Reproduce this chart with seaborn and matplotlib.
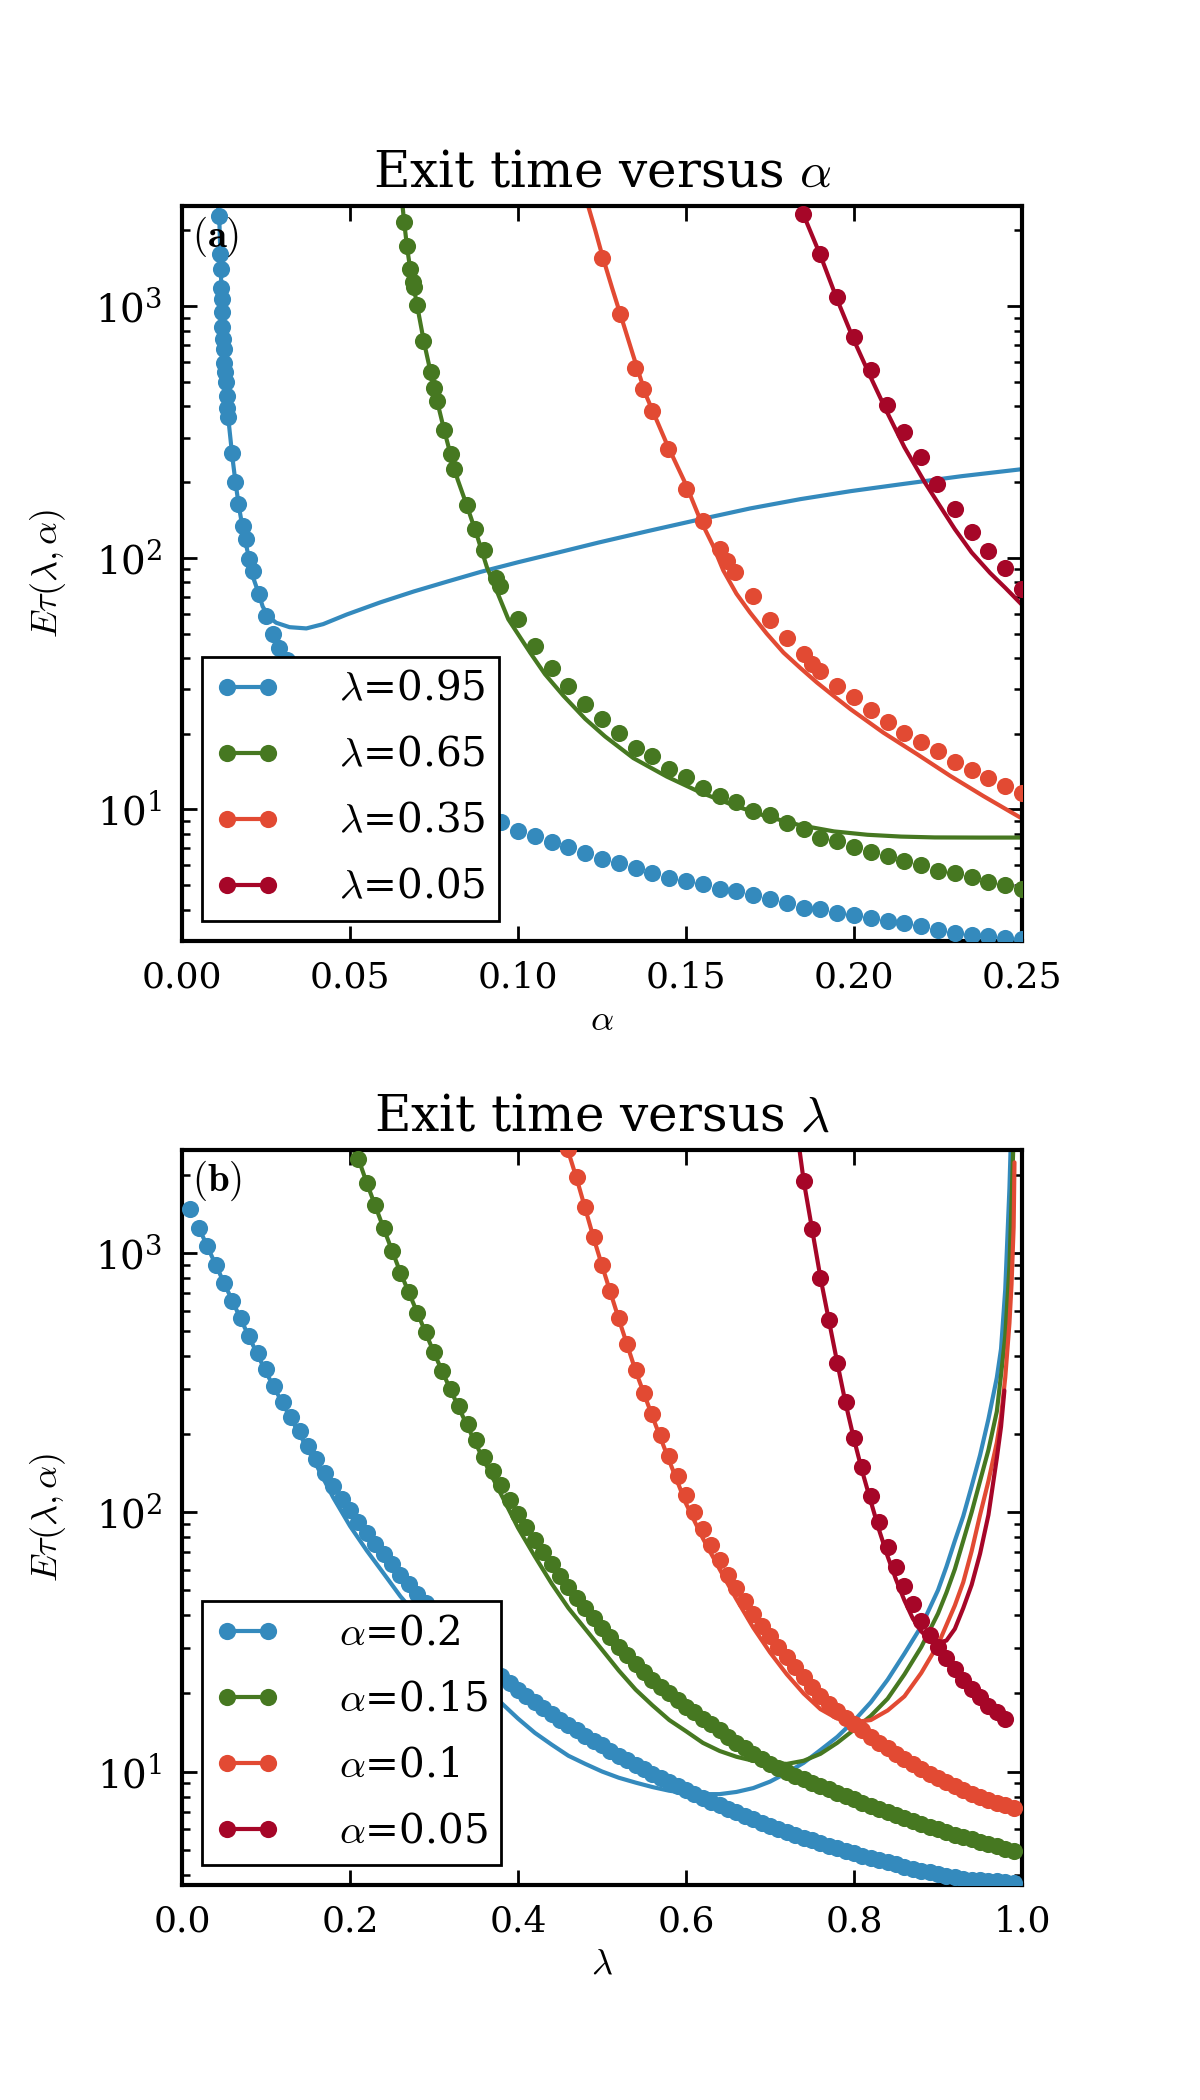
import matplotlib
matplotlib.use("Agg")
import matplotlib.pyplot as plt
import seaborn as sns
from matplotlib.lines import Line2D
from matplotlib.ticker import NullLocator, NullFormatter, FormatStrFormatter

# colours for the four series (top to bottom in each legend)
colors = ['#348ABD', '#467821', '#E24A33', '#A60628']

# ---------------- panel (a): exit time versus alpha ----------------
a_labels = [r'$\lambda$=0.95', r'$\lambda$=0.65', r'$\lambda$=0.35', r'$\lambda$=0.05']

# lambda = 0.95
a_dot_x_095 = [0.0111, 0.0113, 0.0115, 0.0116, 0.0118, 0.0119, 0.0120, 0.0123, 0.0125, 0.0126,
               0.0128, 0.0130, 0.0133, 0.0135, 0.0138, 0.0148, 0.0158, 0.0168, 0.0181, 0.0190,
               0.0200, 0.0210, 0.0229, 0.0250, 0.0272, 0.0290, 0.0312, 0.035, 0.040, 0.045,
               0.050, 0.055, 0.060, 0.065, 0.070, 0.075, 0.080, 0.085, 0.090, 0.095,
               0.100, 0.105, 0.110, 0.115, 0.120, 0.125, 0.130, 0.135, 0.140, 0.145,
               0.150, 0.155, 0.160, 0.165, 0.170, 0.175, 0.180, 0.185, 0.190, 0.195,
               0.200, 0.205, 0.210, 0.215, 0.220, 0.225, 0.230, 0.235, 0.240, 0.245, 0.250]
a_dot_y_095 = [2285, 1610, 1403, 1186, 1066, 944, 823, 740, 675, 597,
               545, 498, 440, 395, 361, 262, 200, 163, 134, 119,
               98.7, 88.7, 71.6, 58.8, 49.7, 43.7, 39.3, 33.9, 28.8, 24.5,
               21.4, 18.8, 16.8, 15.1, 13.6, 12.4, 11.4, 10.5, 9.66, 8.91,
               8.22, 7.85, 7.39, 7.06, 6.74, 6.34, 6.15, 5.87, 5.61, 5.36,
               5.20, 5.04, 4.85, 4.75, 4.56, 4.40, 4.26, 4.07, 4.01, 3.89,
               3.80, 3.72, 3.60, 3.53, 3.44, 3.32, 3.24, 3.16, 3.14, 3.09, 3.06]
a_line_x_095 = [0.0106, 0.0111, 0.0115, 0.0120, 0.0125, 0.0130, 0.0135, 0.0140, 0.0150, 0.0160,
                0.0170, 0.0180, 0.0190, 0.0200, 0.0207, 0.0229, 0.0240, 0.0260, 0.0280, 0.0320,
                0.0370, 0.0420, 0.0490, 0.0590, 0.0690, 0.0790, 0.0890, 0.1000, 0.1120, 0.1240,
                0.1390, 0.1540, 0.1690, 0.1840, 0.1990, 0.2140, 0.2320, 0.2500]
a_line_y_095 = [2600, 2200, 1450, 900, 660, 500, 400, 335, 250, 195,
                158, 132, 114, 98, 87, 71.6, 64, 58, 55.2, 53.0,
                52.4, 54.5, 59.5, 66.5, 73.5, 80.5, 88, 96, 105, 115,
                128, 142, 157, 171, 184, 196, 211, 225]

# lambda = 0.65
a_dot_x_065 = [0.0661, 0.0669, 0.0677, 0.0687, 0.0691, 0.0698, 0.0718, 0.0740, 0.0750, 0.0758,
               0.0780, 0.0800, 0.0810, 0.0849, 0.0872, 0.0899, 0.0935, 0.0945,
               0.100, 0.105, 0.110, 0.115, 0.120, 0.125, 0.130, 0.135, 0.140, 0.145,
               0.150, 0.155, 0.160, 0.165, 0.170, 0.175, 0.180, 0.185, 0.190, 0.195,
               0.200, 0.205, 0.210, 0.215, 0.220, 0.225, 0.230, 0.235, 0.240, 0.245, 0.250]
a_dot_y_065 = [2163, 1726, 1403, 1250, 1190, 1009, 728, 545, 475, 421,
               321, 258, 226, 162, 130, 107, 83, 77.5,
               57, 44.7, 36.6, 30.8, 26.2, 22.8, 20.1, 17.6, 16.3, 14.5,
               13.4, 12.2, 11.3, 10.7, 9.87, 9.48, 8.81, 8.39, 7.73, 7.50,
               7.06, 6.78, 6.53, 6.24, 6.00, 5.70, 5.58, 5.41, 5.15, 5.00, 4.85]
a_line_x_065 = [0.0655, 0.0661, 0.0670, 0.0680, 0.0690, 0.0700, 0.0720, 0.0740, 0.0760, 0.0780,
                0.0800, 0.0820, 0.0850, 0.0880, 0.0907, 0.0940, 0.0971, 0.1036, 0.1080, 0.1135,
                0.1200, 0.1259, 0.1343, 0.1443, 0.1542, 0.1640, 0.1740, 0.1840, 0.1940, 0.2040,
                0.2140, 0.2240, 0.2370, 0.2500]
a_line_y_065 = [2600, 2163, 1700, 1380, 1180, 1000, 720, 545, 415, 322,
                255, 205, 158, 120, 92, 72, 57, 42, 34.5, 28.3,
                22.9, 19.5, 16.0, 13.5, 11.7, 10.4, 9.38, 8.65, 8.18, 7.93,
                7.80, 7.74, 7.73, 7.73]

# lambda = 0.35
a_dot_x_035 = [0.1250, 0.1302, 0.1348, 0.1373, 0.1398, 0.1447, 0.1500, 0.1550, 0.1600, 0.1623,
               0.1647, 0.1700, 0.1750, 0.1800, 0.1850, 0.1874, 0.1900, 0.1950, 0.2000, 0.2050,
               0.2100, 0.2150, 0.2200, 0.2250, 0.2300, 0.2350, 0.2400, 0.2450, 0.2500]
a_dot_y_035 = [1560, 929, 570, 468, 384, 270, 188, 140, 108, 97.3,
               87.5, 70.6, 56.6, 48.2, 41.4, 37.8, 35.5, 31.0, 27.9, 24.9,
               22.3, 20.2, 18.5, 17.1, 15.5, 14.4, 13.3, 12.4, 11.6]
a_line_x_035 = [0.1205, 0.1230, 0.1250, 0.1280, 0.1310, 0.1343, 0.1380, 0.1443, 0.1500, 0.1542,
                0.1580, 0.1611, 0.1650, 0.1690, 0.1740, 0.1790, 0.1840, 0.1890, 0.1940, 0.1990,
                0.2087, 0.2187, 0.2286, 0.2385, 0.2500]
a_line_y_035 = [2600, 2000, 1600, 1180, 880, 635, 445, 283, 195, 142,
                112, 89, 72, 60.7, 50, 42, 36.5, 31.9, 28.2, 25.0,
                20.2, 16.6, 13.6, 11.3, 9.2]

# lambda = 0.05
a_dot_x_005 = [0.1849, 0.1899, 0.1948, 0.2000, 0.2050, 0.2099, 0.2149, 0.2198, 0.2248, 0.2300,
               0.2350, 0.2400, 0.2450, 0.2500]
a_dot_y_005 = [2322, 1610, 1083, 757, 558, 404, 315, 251, 196, 156,
               127, 106, 91.4, 75]
a_line_x_005 = [0.1835, 0.1850, 0.1900, 0.1950, 0.2000, 0.2050, 0.2100, 0.2150, 0.2211, 0.2250,
                0.2300, 0.2350, 0.2405, 0.2450, 0.2500]
a_line_y_005 = [2600, 2300, 1590, 1060, 730, 520, 375, 275, 199, 165,
                130, 105, 87, 76, 65]

# ---------------- panel (b): exit time versus lambda ----------------
b_labels = [r'$\alpha$=0.2', r'$\alpha$=0.15', r'$\alpha$=0.1', r'$\alpha$=0.05']

lam_dots = [0.01, 0.02, 0.03, 0.04, 0.05, 0.06, 0.07, 0.08, 0.09, 0.10,
            0.11, 0.12, 0.13, 0.14, 0.15, 0.16, 0.17, 0.18, 0.19, 0.20,
            0.21, 0.22, 0.23, 0.24, 0.25, 0.26, 0.27, 0.28, 0.29, 0.30,
            0.31, 0.32, 0.33, 0.34, 0.35, 0.36, 0.37, 0.38, 0.39, 0.40,
            0.41, 0.42, 0.43, 0.44, 0.45, 0.46, 0.47, 0.48, 0.49, 0.50,
            0.51, 0.52, 0.53, 0.54, 0.55, 0.56, 0.57, 0.58, 0.59, 0.60,
            0.61, 0.62, 0.63, 0.64, 0.65, 0.66, 0.67, 0.68, 0.69, 0.70,
            0.71, 0.72, 0.73, 0.74, 0.75, 0.76, 0.77, 0.78, 0.79, 0.80,
            0.81, 0.82, 0.83, 0.84, 0.85, 0.86, 0.87, 0.88, 0.89, 0.90,
            0.91, 0.92, 0.93, 0.94, 0.95, 0.96, 0.97, 0.98, 0.99]

# alpha = 0.2 (lambda 0.01 .. 0.99)
b_dot_y_02 = [1479, 1253, 1062, 902, 767, 655, 560, 480, 412, 356,
              308, 267, 233, 205, 180, 160, 142, 126, 113, 102,
              91.8, 83.2, 75.5, 68.9, 63.0, 57.5, 52.7, 48.4, 44.6, 41.1,
              38.0, 35.2, 32.7, 30.5, 28.4, 26.6, 24.9, 23.4, 22.0, 20.7,
              19.6, 18.5, 17.6, 16.7, 15.8, 15.1, 14.4, 13.7, 13.1, 12.6,
              12.0, 11.5, 11.1, 10.6, 10.2, 9.82, 9.46, 9.12, 8.79, 8.47,
              8.18, 7.91, 7.66, 7.41, 7.18, 6.95, 6.75, 6.55, 6.35, 6.18,
              6.01, 5.85, 5.70, 5.56, 5.42, 5.28, 5.16, 5.05, 4.93, 4.83,
              4.73, 4.63, 4.54, 4.46, 4.38, 4.30, 4.22, 4.15, 4.08, 4.02,
              3.96, 3.91, 3.86, 3.83, 3.80, 3.78, 3.77, 3.75, 3.73]
b_line_x_02 = [0.02, 0.04, 0.06, 0.08, 0.10, 0.12, 0.14, 0.16, 0.18, 0.20,
               0.22, 0.24, 0.26, 0.28, 0.30, 0.32, 0.34, 0.36, 0.38, 0.40,
               0.42, 0.44, 0.46, 0.48, 0.50, 0.52, 0.54, 0.56, 0.58, 0.60,
               0.62, 0.64, 0.66, 0.68, 0.70, 0.72, 0.74, 0.76, 0.78, 0.80,
               0.82, 0.84, 0.86, 0.88, 0.90, 0.91, 0.92, 0.93, 0.94, 0.95,
               0.96, 0.97, 0.975, 0.98, 0.985, 0.99]
b_line_y_02 = [1253, 902, 653, 473, 347, 262, 200, 152, 114, 88.5,
               71.1, 58.1, 47.4, 39.8, 34.3, 29.5, 25.1, 21.4, 18.4, 16.0,
               14.1, 12.7, 11.5, 10.7, 10.0, 9.46, 9.06, 8.71, 8.43, 8.26,
               8.18, 8.18, 8.34, 8.63, 9.14, 9.89, 10.8, 12.1, 13.6, 15.7,
               18.5, 22.6, 28.5, 36.3, 50.1, 61.7, 77.6, 96.6, 126, 166,
               229, 331, 427, 724, 1778, 6310]

# alpha = 0.15 (lambda 0.21 .. 0.99)
b_dot_y_015 = [2307, 1862, 1531, 1245, 1019, 841, 705, 590, 494, 414,
               351, 299, 256, 220, 190, 164, 144, 127, 112, 98.9,
               87.5, 78.2, 70.1, 63.1, 56.9, 51.5, 46.9, 42.8, 39.1, 35.8,
               32.9, 30.3, 28.1, 26.1, 24.3, 22.6, 21.2, 20.0, 18.8, 17.8,
               16.9, 16.0, 15.2, 14.5, 13.6, 12.9, 12.3, 11.7, 11.2, 10.7,
               10.3, 9.95, 9.62, 9.33, 9.06, 8.79, 8.53, 8.28, 8.04, 7.80,
               7.57, 7.35, 7.14, 6.95, 6.78, 6.61, 6.44, 6.28, 6.12, 5.98,
               5.85, 5.71, 5.58, 5.47, 5.36, 5.25, 5.14, 5.04, 4.93]
b_line_x_015 = [0.20, 0.21, 0.22, 0.24, 0.26, 0.28, 0.30, 0.32, 0.34, 0.36,
                0.38, 0.40, 0.42, 0.44, 0.46, 0.48, 0.50, 0.52, 0.54, 0.56,
                0.58, 0.60, 0.62, 0.64, 0.66, 0.68, 0.70, 0.72, 0.74, 0.76,
                0.78, 0.80, 0.82, 0.84, 0.86, 0.88, 0.90, 0.91, 0.92, 0.93,
                0.94, 0.95, 0.96, 0.97, 0.975, 0.98, 0.985, 0.99]
b_line_y_015 = [2630, 2307, 1862, 1245, 841, 590, 412, 295, 214, 157,
                117, 87.1, 67.6, 53.1, 42.7, 35.5, 29.5, 24.5, 20.7, 18.0,
                15.8, 14.3, 12.9, 12.0, 11.4, 11.0, 10.8, 10.7, 11.0, 11.7,
                12.9, 14.5, 16.4, 19.1, 23.7, 30.2, 40.7, 49.0, 60.3, 77.6,
                100, 132, 174, 245, 339, 479, 891, 2818]

# alpha = 0.1 (lambda 0.46 .. 0.99)
b_dot_y_01 = [2512, 1959, 1510, 1153, 902,
              715, 560, 446, 355, 288, 239, 198, 165, 138, 117,
              100, 86.1, 74.5, 65.3, 57.5, 51.1, 45.5, 40.6, 36.5, 33.2,
              30.3, 27.6, 25.2, 23.1, 21.1, 19.6, 18.2, 17.1, 16.1, 15.2,
              14.4, 13.6, 12.9, 12.3, 11.7, 11.2, 10.7, 10.2, 9.79, 9.42,
              9.08, 8.77, 8.49, 8.22, 7.98, 7.76, 7.57, 7.40, 7.24]
b_line_x_01 = [0.455, 0.46, 0.47, 0.48, 0.49, 0.50, 0.52, 0.54, 0.56, 0.58,
               0.60, 0.62, 0.64, 0.66, 0.68, 0.70, 0.72, 0.74, 0.76, 0.78,
               0.80, 0.82, 0.84, 0.86, 0.88, 0.90, 0.92, 0.93, 0.94, 0.95,
               0.96, 0.97, 0.975, 0.98, 0.985, 0.9875, 0.99, 0.991]
b_line_y_01 = [2630, 2455, 1928, 1486, 1143, 895, 556, 351, 234, 158,
               108, 79.4, 60.3, 46.2, 35.9, 28.8, 23.7, 20.0, 17.4, 16.0,
               15.5, 15.8, 17.2, 19.5, 24.0, 30.9, 43.7, 53.7, 70.8, 97.7,
               132, 186, 234, 331, 537, 759, 1259, 2239]

# alpha = 0.05 (lambda 0.74 .. 0.98)
b_dot_y_005 = [1901, 1239, 805, 551, 378, 267, 194,
               149, 116, 91.6, 73.8, 61.7, 51.9, 44.2, 38.2, 33.7, 30.2,
               27.4, 24.8, 22.6, 20.8, 19.3, 17.9, 16.9, 16.0]
b_line_x_005 = [0.735, 0.74, 0.75, 0.76, 0.77, 0.78, 0.79, 0.80, 0.81, 0.82,
                0.83, 0.84, 0.85, 0.86, 0.87, 0.88, 0.89, 0.90, 0.91, 0.92,
                0.93, 0.94, 0.95, 0.96, 0.97, 0.975, 0.979]
b_line_y_005 = [2512, 1905, 1239, 805, 551, 378, 263, 191, 143, 110,
                85.1, 67.6, 55.0, 45.7, 38.9, 34.7, 32.4, 31.4, 32.0, 35.5,
                42.7, 52.5, 69.2, 97.7, 162, 214, 295]

# ---------------- style ----------------
sns.set_style("ticks")
plt.rcParams['font.family'] = ['DejaVu Serif']
plt.rcParams['mathtext.fontset'] = 'cm'
plt.rcParams['axes.linewidth'] = 1.5
for key in ['text.color', 'axes.labelcolor', 'xtick.color', 'ytick.color', 'axes.edgecolor']:
    plt.rcParams[key] = 'black'

fig = plt.figure(figsize=(6, 10.5), dpi=200)
ax_a = fig.add_axes([0.1517, 0.5519, 0.70, 0.35])
ax_b = fig.add_axes([0.1517, 0.1024, 0.70, 0.35])

panel_a = [
    (a_dot_x_095, a_dot_y_095, a_line_x_095, a_line_y_095),
    (a_dot_x_065, a_dot_y_065, a_line_x_065, a_line_y_065),
    (a_dot_x_035, a_dot_y_035, a_line_x_035, a_line_y_035),
    (a_dot_x_005, a_dot_y_005, a_line_x_005, a_line_y_005),
]
panel_b = [
    (lam_dots, b_dot_y_02, b_line_x_02, b_line_y_02),
    (lam_dots[20:], b_dot_y_015, b_line_x_015, b_line_y_015),
    (lam_dots[45:], b_dot_y_01, b_line_x_01, b_line_y_01),
    (lam_dots[73:98], b_dot_y_005, b_line_x_005, b_line_y_005),
]


def draw_panel(ax, series, labels, title, xlabel, xlim, ylim, xticks, xfmt, tag):
    ax.set_yscale('log')
    for (dx, dy, lx, ly), c in zip(series, colors):
        sns.lineplot(x=lx, y=ly, color=c, lw=1.5, estimator=None, sort=False, ax=ax)
        sns.scatterplot(x=dx, y=dy, color=c, s=38, linewidth=0, ax=ax, zorder=3)
    ax.set_xlim(*xlim)
    ax.set_ylim(*ylim)
    ax.set_xticks(xticks)
    ax.xaxis.set_major_formatter(FormatStrFormatter(xfmt))
    ax.xaxis.set_minor_locator(NullLocator())
    ax.yaxis.set_minor_formatter(NullFormatter())
    ax.tick_params(which='both', direction='in', top=True, right=True, labelsize=13, pad=7)
    ax.tick_params(axis='y', labelsize=14)
    ax.tick_params(which='major', length=5.5, width=1.0)
    ax.tick_params(which='minor', length=2.8, width=0.9)
    for sp in ax.spines.values():
        sp.set_visible(True)
        sp.set_linewidth(1.5)
        sp.set_color('black')
    ax.set_title(title, fontsize=18, pad=7)
    ax.set_xlabel(xlabel, fontsize=13, labelpad=3)
    ax.set_ylabel(r'$E\tau(\lambda,\alpha)$', fontsize=13, labelpad=10)
    ax.text(0.012, 0.988, tag, transform=ax.transAxes, ha='left', va='top', fontsize=14)
    handles = [Line2D([], [], color=c, marker='o', markersize=6.2, markeredgewidth=0, lw=1.5)
               for c in colors]
    leg = ax.legend(handles, labels, loc='lower left', numpoints=2, fancybox=False,
                    edgecolor='black', framealpha=1, fontsize=14.6, handlelength=1.6,
                    handletextpad=1.45, borderaxespad=0.5, borderpad=0.32,
                    labelspacing=0.64)
    leg.get_frame().set_linewidth(1.0)
    leg.set_zorder(10)


draw_panel(ax_a, panel_a, a_labels, r'Exit time versus $\alpha$', r'$\alpha$',
           (0, 0.25), (3, 2500), [0, 0.05, 0.10, 0.15, 0.20, 0.25], '%.2f', r'$(\mathbf{a})$')
draw_panel(ax_b, panel_b, b_labels, r'Exit time versus $\lambda$', r'$\lambda$',
           (0, 1.0), (3.65, 2500), [0, 0.2, 0.4, 0.6, 0.8, 1.0], '%.1f', r'$(\mathbf{b})$')

fig.savefig('out.png', dpi=200, facecolor='white')
